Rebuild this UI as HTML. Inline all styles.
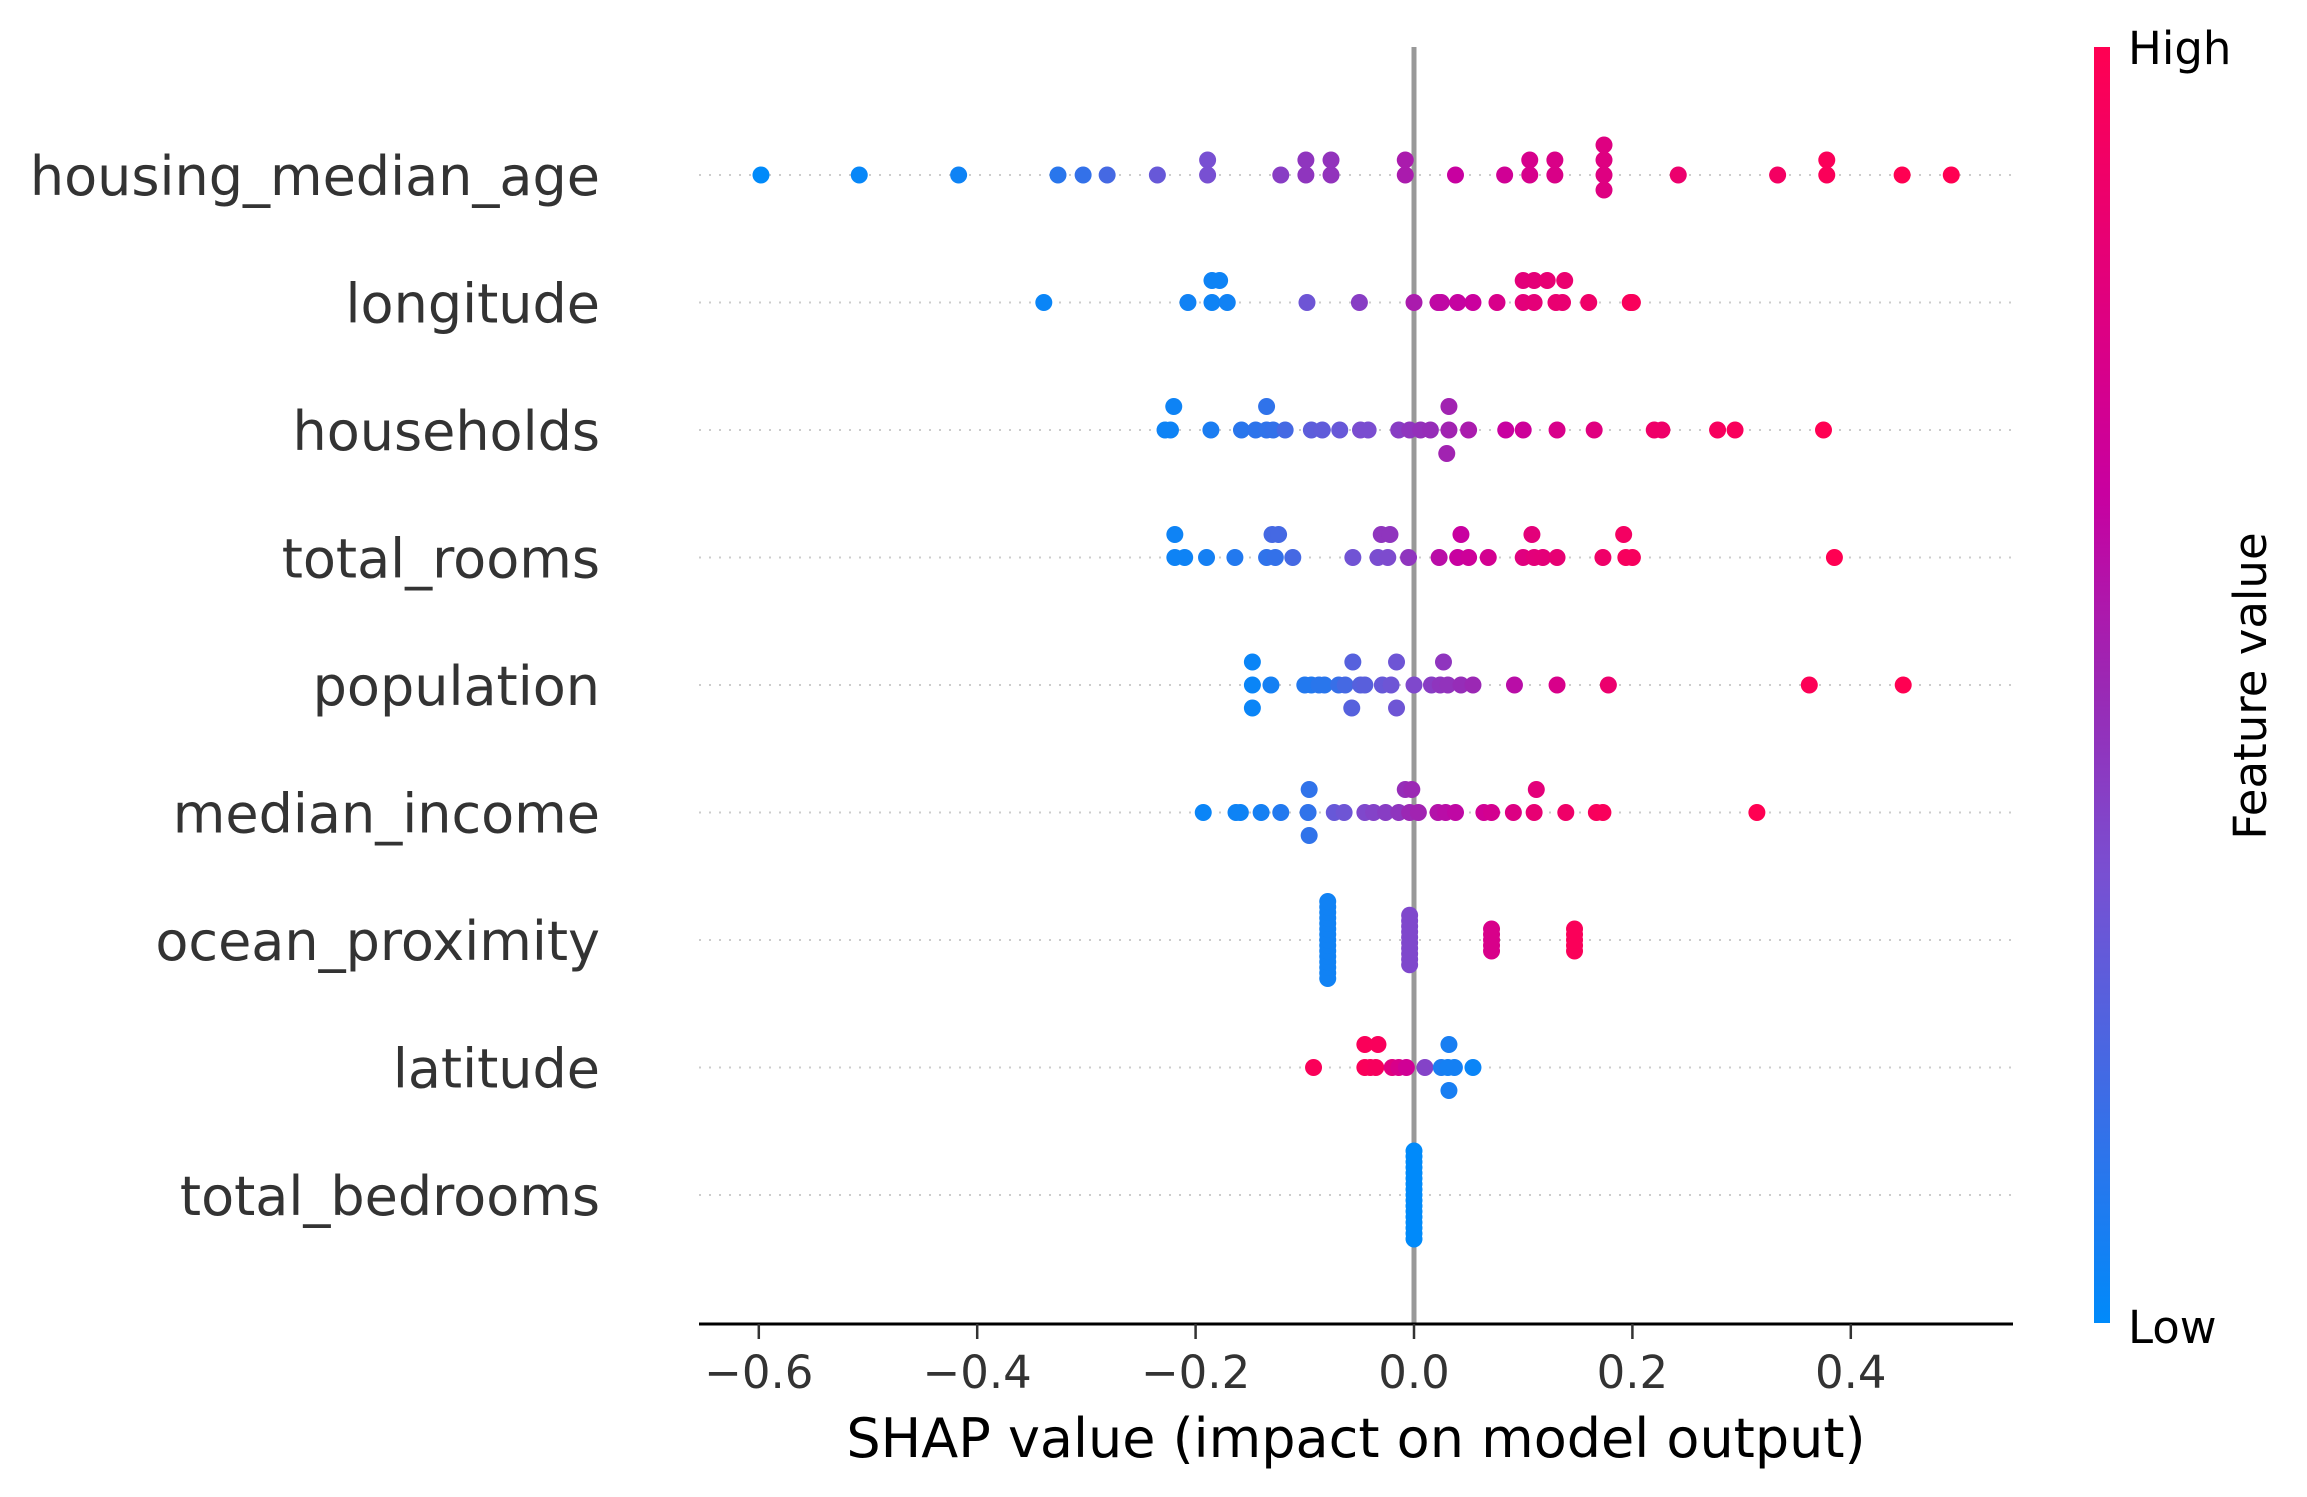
<!DOCTYPE html>
<html><head><meta charset="utf-8"><style>
body{margin:0;background:#fff}
svg{display:block;font-family:"DejaVu Sans","Liberation Sans",sans-serif}
</style></head><body>
<svg id="chart" width="2307" height="1497" viewBox="0 0 2307 1497" xmlns="http://www.w3.org/2000/svg">
<defs>
<linearGradient id="cbg" x1="0" y1="1" x2="0" y2="0">
<stop offset="0" stop-color="rgb(0,138,250)"/>
<stop offset="0.35" stop-color="rgb(120,80,210)"/>
<stop offset="0.5" stop-color="rgb(155,40,180)"/>
<stop offset="0.65" stop-color="rgb(200,0,160)"/>
<stop offset="1" stop-color="rgb(255,0,82)"/>
</linearGradient>
</defs>
<g id="grid"></g>
<line x1="1414" x2="1414" y1="47" y2="1324" stroke="#999" stroke-width="5"/>
<g id="dots"></g>
<g id="labels"></g>
<line x1="699" x2="2013" y1="1324" y2="1324" stroke="#000" stroke-width="3"/>
<g id="ticks"></g>
<text x="1356" y="1457" font-size="54" text-anchor="middle" fill="#000">SHAP value (impact on model output)</text>
<rect x="2094" y="47" width="16" height="1276" fill="url(#cbg)"/>
<text x="2128" y="64" font-size="45" fill="#000">High</text>
<text x="2128" y="1343" font-size="45" fill="#000">Low</text>
<text transform="translate(2266,686) rotate(-90)" font-size="45" text-anchor="middle" fill="#000">Feature value</text>
</svg>
<script>
const features = ["housing_median_age","longitude","households","total_rooms","population","median_income","ocean_proximity","latitude","total_bedrooms"];
const tickValues = [-0.6,-0.4,-0.2,0.0,0.2,0.4];
const tickLabels = ["\u22120.6","\u22120.4","\u22120.2","0.0","0.2","0.4"];
const levelStep = [15,22,23.5,23,23,23,5.5,23,5.5];

const housingVals = [-0.598,-0.508,-0.417,-0.326,-0.303,-0.281,-0.235,-0.189,-0.189,-0.122,-0.099,-0.099,-0.076,-0.076,-0.008,-0.008,0.038,0.083,0.106,0.106,0.129,0.129,0.174,0.174,0.174,0.174,0.242,0.333,0.378,0.378,0.447,0.492];
const housingCols = [0,0.02,0.04,0.12,0.15,0.2,0.3,0.35,0.35,0.42,0.45,0.45,0.46,0.46,0.55,0.55,0.65,0.7,0.74,0.74,0.76,0.76,0.79,0.79,0.79,0.79,0.88,0.93,0.97,0.97,1,1];
const housingLvls = [0,0,0,0,0,0,0,0,1,0,0,1,0,1,0,1,0,0,0,1,0,1,-1,0,1,2,0,0,0,1,0,0];

const lonVals = [-0.339,-0.207,-0.185,-0.171,-0.185,-0.178,-0.098,-0.05,0.0,0.022,0.025,0.04,0.054,0.076,0.10,0.11,0.13,0.136,0.16,0.198,0.2,0.10,0.11,0.122,0.138];
const lonCols = [0.03,0.05,0.04,0.05,0.04,0.04,0.32,0.42,0.55,0.62,0.62,0.64,0.66,0.75,0.82,0.83,0.86,0.86,0.9,0.96,0.96,0.82,0.83,0.85,0.87];
const lonLvls = [0,0,0,0,1,1,0,0,0,0,0,0,0,0,0,0,0,0,0,0,0,1,1,1,1];

const hhVals = [-0.228,-0.223,-0.186,-0.158,-0.145,-0.135,-0.129,-0.118,-0.094,-0.084,-0.068,-0.049,-0.042,-0.014,-0.004,0.006,0.015,0.032,0.05,0.084,0.10,0.131,0.165,0.22,0.227,0.278,0.294,0.375,-0.22,-0.135,0.032,0.03];
const hhCols = [0.04,0.04,0.08,0.12,0.13,0.14,0.15,0.2,0.27,0.28,0.3,0.36,0.36,0.42,0.45,0.47,0.48,0.52,0.55,0.65,0.68,0.75,0.8,0.9,0.9,0.95,0.96,1,0.04,0.14,0.52,0.52];
const hhLvls = [0,0,0,0,0,0,0,0,0,0,0,0,0,0,0,0,0,0,0,0,0,0,0,0,0,0,0,0,1,1,1,-1];

const trVals = [-0.219,-0.21,-0.19,-0.164,-0.135,-0.127,-0.111,-0.056,-0.033,-0.024,-0.005,0.023,0.04,0.05,0.068,0.10,0.11,0.118,0.131,0.173,0.194,0.2,0.385,-0.219,-0.13,-0.124,-0.03,-0.022,0.043,0.108,0.192];
const trCols = [0.04,0.04,0.06,0.1,0.14,0.15,0.2,0.33,0.36,0.37,0.45,0.6,0.65,0.68,0.72,0.8,0.82,0.83,0.85,0.9,0.95,0.95,1,0.04,0.2,0.2,0.45,0.45,0.65,0.82,0.93];
const trLvls = [0,0,0,0,0,0,0,0,0,0,0,0,0,0,0,0,0,0,0,0,0,0,0,1,1,1,1,1,1,1,1];

const popVals = [-0.148,-0.131,-0.10,-0.094,-0.087,-0.082,-0.069,-0.063,-0.049,-0.045,-0.029,-0.021,0.0,0.016,0.024,0.031,0.043,0.054,0.092,0.131,0.178,0.362,0.448,-0.148,-0.056,-0.016,0.027,-0.148,-0.057,-0.016];
const popCols = [0.03,0.06,0.1,0.1,0.12,0.12,0.16,0.2,0.25,0.26,0.3,0.32,0.38,0.42,0.45,0.46,0.48,0.5,0.6,0.75,0.88,0.98,1,0.03,0.25,0.32,0.45,0.03,0.25,0.32];
const popLvls = [0,0,0,0,0,0,0,0,0,0,0,0,0,0,0,0,0,0,0,0,0,0,0,1,1,1,1,-1,-1,-1];

const incVals = [-0.193,-0.163,-0.159,-0.14,-0.122,-0.097,-0.073,-0.064,-0.045,-0.037,-0.026,-0.014,-0.004,0.004,0.022,0.029,0.038,0.064,0.071,0.091,0.11,0.139,0.167,0.173,0.314,-0.096,-0.008,-0.002,0.112,-0.096];
const incCols = [0.03,0.04,0.04,0.06,0.1,0.14,0.3,0.32,0.38,0.4,0.42,0.45,0.5,0.52,0.58,0.6,0.62,0.7,0.72,0.78,0.85,0.9,0.95,0.96,1,0.14,0.48,0.5,0.82,0.14];
const incLvls = [0,0,0,0,0,0,0,0,0,0,0,0,0,0,0,0,0,0,0,0,0,0,0,0,0,1,1,1,1,-1];

const oceanVals = [-0.079,-0.079,-0.079,-0.079,-0.079,-0.079,-0.079,-0.079,-0.079,-0.079,-0.079,-0.079,-0.079,-0.079,-0.079,-0.004,-0.004,-0.004,-0.004,-0.004,-0.004,-0.004,-0.004,-0.004,-0.004,0.071,0.071,0.071,0.071,0.071,0.147,0.147,0.147,0.147,0.147];
const oceanCols = [0.05,0.05,0.05,0.05,0.05,0.05,0.05,0.05,0.05,0.05,0.05,0.05,0.05,0.05,0.05,0.38,0.38,0.38,0.38,0.38,0.38,0.38,0.38,0.38,0.38,0.75,0.75,0.75,0.75,0.75,0.97,0.97,0.97,0.97,0.97];
const oceanLvls = [-7,-6,-5,-4,-3,-2,-1,0,1,2,3,4,5,6,7,-4.5,-3.5,-2.5,-1.5,-0.5,0.5,1.5,2.5,3.5,4.5,-2,-1,0,1,2,-2,-1,0,1,2];

const latVals = [-0.092,-0.045,-0.04,-0.035,-0.02,-0.014,-0.007,0.01,0.025,0.031,0.037,0.054,-0.045,-0.033,0.032,0.032];
const latCols = [0.97,0.97,0.96,0.95,0.8,0.75,0.7,0.4,0.08,0.06,0.06,0.03,0.97,0.96,0.07,0.07];
const latLvls = [0,0,0,0,0,0,0,0,0,0,0,0,1,1,1,-1];

const bedVals = [0,0,0,0,0,0,0,0,0,0,0,0,0,0,0,0,0];
const bedCols = [0,0,0,0,0,0,0,0,0,0,0,0,0,0,0,0,0];
const bedLvls = [-8,-7,-6,-5,-4,-3,-2,-1,0,1,2,3,4,5,6,7,8];

const seriesVals = [housingVals,lonVals,hhVals,trVals,popVals,incVals,oceanVals,latVals,bedVals];
const seriesCols = [housingCols,lonCols,hhCols,trCols,popCols,incCols,oceanCols,latCols,bedCols];
const seriesLvls = [housingLvls,lonLvls,hhLvls,trLvls,popLvls,incLvls,oceanLvls,latLvls,bedLvls];

const NS = "http://www.w3.org/2000/svg";
const X0 = 1414, XS = 1092;
function xScale(v){ return X0 + v*XS; }
function yRow(i){ return 175 + i*127.5; }
const stops = [[0,[0,138,250]],[0.35,[120,80,210]],[0.5,[155,40,180]],[0.65,[200,0,160]],[1,[255,0,82]]];
function colorOf(t){
  for(let k=1;k<stops.length;k++){
    if(t<=stops[k][0]){
      const a=stops[k-1],b=stops[k],f=(t-a[0])/(b[0]-a[0]);
      const c=a[1].map((v,j)=>Math.round(v+(b[1][j]-v)*f));
      return "rgb("+c.join(",")+")";
    }
  }
  return "rgb(255,0,82)";
}
const grid=document.getElementById("grid"), dots=document.getElementById("dots"), labels=document.getElementById("labels"), ticks=document.getElementById("ticks");
features.forEach((f,i)=>{
  const y=yRow(i);
  const g=document.createElementNS(NS,"line");
  
  
  g.setAttribute("x1",699);g.setAttribute("x2",2013);g.setAttribute("y1",y);g.setAttribute("y2",y);
  g.setAttribute("stroke","#ccc");g.setAttribute("stroke-width","2");g.setAttribute("stroke-dasharray","2 8");
  grid.appendChild(g);
  const t=document.createElementNS(NS,"text");
  
  
  t.setAttribute("x",600);t.setAttribute("y",y+20);t.setAttribute("font-size","54");t.setAttribute("text-anchor","end");t.setAttribute("fill","#333");
  t.textContent=f; labels.appendChild(t);
  const vals=seriesVals[i],cols=seriesCols[i],lv=seriesLvls[i];
  vals.forEach((v,k)=>{
    const c=document.createElementNS(NS,"circle");
    
    
    c.setAttribute("cx",xScale(v));c.setAttribute("cy",y-lv[k]*levelStep[i]);c.setAttribute("r",8.5);
    c.setAttribute("fill",colorOf(cols[k]));
    dots.appendChild(c);
  });
});
tickValues.forEach((v,k)=>{
  const x=xScale(v);
  const l=document.createElementNS(NS,"line");
  
  
  l.setAttribute("x1",x);l.setAttribute("x2",x);l.setAttribute("y1",1324);l.setAttribute("y2",1339);l.setAttribute("stroke","#333");l.setAttribute("stroke-width","2.5");
  ticks.appendChild(l);
  const t=document.createElementNS(NS,"text");
  
  
  t.setAttribute("x",x);t.setAttribute("y",1388);t.setAttribute("font-size","45");t.setAttribute("text-anchor","middle");t.setAttribute("fill","#333");
  t.textContent=tickLabels[k]; ticks.appendChild(t);
});
</script>
</body></html>
